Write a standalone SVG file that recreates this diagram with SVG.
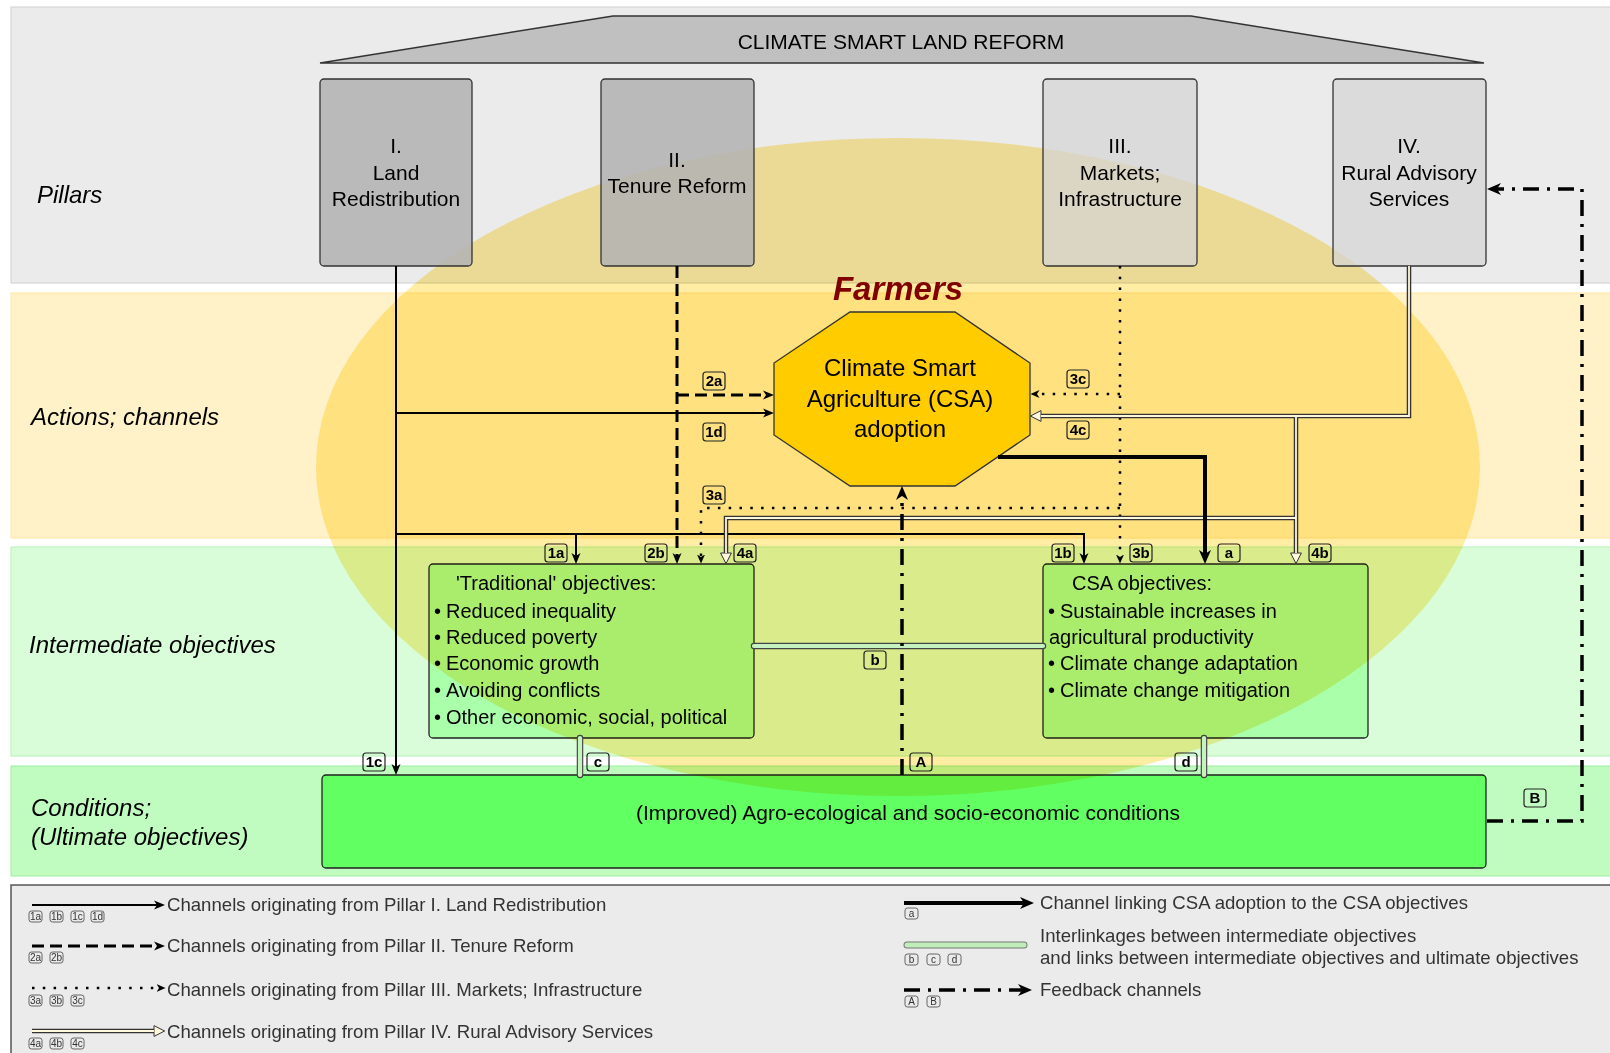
<svg xmlns="http://www.w3.org/2000/svg" width="1610" height="1053" viewBox="0 0 1610 1053">
<defs>
<style>
text{font-family:"Liberation Sans",Arial,Helvetica,sans-serif;fill:#000;}
.bandlbl{font-size:24px;font-style:italic;}
.pil{stroke:#333;stroke-width:1.3;}
.ptxt{font-size:21px;text-anchor:middle;}
.obj{fill:#aaffaa;stroke:#222;stroke-width:1.3;}
.otxt{font-size:20px;}
.lbl rect{fill:none;stroke:#222;stroke-width:1.2;}
.lbl text{font-size:15px;font-weight:bold;text-anchor:middle;}
.sl rect{fill:none;stroke:#555;stroke-width:0.9;}
.sl text{font-size:10px;text-anchor:middle;fill:#333;}
.leg{font-size:18.6px;fill:#333;}
.c1{fill:none;stroke:#000;stroke-width:2;}
.c2{fill:none;stroke:#000;stroke-width:3;stroke-dasharray:12,6;}
.c3{fill:none;stroke:#000;stroke-width:2.5;stroke-dasharray:2.5,8.3;}
.c4o{fill:none;stroke:#333;stroke-width:4.5;}
.c4i{fill:none;stroke:#fff8dc;stroke-width:1.8;}
.ca{fill:none;stroke:#000;stroke-width:4;}
.cf{fill:none;stroke:#000;stroke-width:3.5;stroke-dasharray:16,8,3,8;}
.lko{fill:none;stroke:#444;stroke-width:6.5;stroke-linecap:round;}
.lki{fill:none;stroke:#c6f2c0;stroke-width:4.2;stroke-linecap:round;}
</style>
<marker id="arr" viewBox="0 0 11 10" refX="3" refY="5" markerWidth="11" markerHeight="10" markerUnits="userSpaceOnUse" orient="auto">
<path d="M0,0.5 L11,5 L0,9.5 L3,5 z" fill="#000"/>
</marker>
<marker id="arrS" viewBox="0 0 9 9" refX="2.5" refY="4.5" markerWidth="9" markerHeight="9" markerUnits="userSpaceOnUse" orient="auto">
<path d="M0,0.5 L9,4.5 L0,8.5 L2.5,4.5 z" fill="#000"/>
</marker>
<marker id="arrB" viewBox="0 0 14 12" refX="4" refY="6" markerWidth="14" markerHeight="12" markerUnits="userSpaceOnUse" orient="auto">
<path d="M0,0 L14,6 L0,12 L4,6 z" fill="#000"/>
</marker>
<marker id="hol" viewBox="0 0 12 12" refX="0.6" refY="6" markerWidth="12" markerHeight="12" markerUnits="userSpaceOnUse" orient="auto">
<path d="M0.6,0.6 L11.2,6 L0.6,11.4 z" fill="#fff8dc" stroke="#333" stroke-width="1"/>
</marker>
</defs>

<g id="bands">
<rect x="11" y="7" width="1620" height="276" fill="#ebebeb" stroke="#cfcfcf" stroke-width="1"/>
<rect x="11" y="293" width="1620" height="245" fill="#fff2c8" stroke="#ffe6a0" stroke-width="1"/>
<rect x="11" y="547" width="1620" height="209" fill="#d9fdd9" stroke="#b6f3b6" stroke-width="1"/>
<rect x="11" y="766" width="1620" height="110" fill="#c0fcc0" stroke="#9eee9e" stroke-width="1"/>
</g>

<g id="row-labels">
<text class="bandlbl" x="37" y="203">Pillars</text>
<text class="bandlbl" x="31" y="425">Actions; channels</text>
<text class="bandlbl" x="29" y="653">Intermediate objectives</text>
<text class="bandlbl" x="31" y="816">Conditions;</text>
<text class="bandlbl" x="31" y="845">(Ultimate objectives)</text>
</g>

<g id="roof">
<polygon points="320,63 613,16 1191,16 1484,63" fill="#c0c0c0" stroke="#333" stroke-width="1.5"/>
<text x="901" y="49" font-size="21" text-anchor="middle">CLIMATE SMART LAND REFORM</text>
</g>

<g id="traditional-objectives">
<rect class="obj" x="429" y="564" width="325" height="174" rx="4"/>
<text class="otxt" x="456" y="590">'Traditional' objectives:</text>
<text class="otxt" y="618"><tspan x="434">•</tspan><tspan x="446">Reduced inequality</tspan></text>
<text class="otxt" y="644"><tspan x="434">•</tspan><tspan x="446">Reduced poverty</tspan></text>
<text class="otxt" y="670"><tspan x="434">•</tspan><tspan x="446">Economic growth</tspan></text>
<text class="otxt" y="697"><tspan x="434">•</tspan><tspan x="446">Avoiding conflicts</tspan></text>
<text class="otxt" y="724"><tspan x="434">•</tspan><tspan x="446">Other economic, social, political</tspan></text>
</g>

<g id="csa-objectives">
<rect class="obj" x="1043" y="564" width="325" height="174" rx="4"/>
<text class="otxt" x="1072" y="590">CSA objectives:</text>
<text class="otxt" y="618"><tspan x="1048">•</tspan><tspan x="1060">Sustainable increases in</tspan></text>
<text class="otxt" x="1049" y="644">agricultural productivity</text>
<text class="otxt" y="670"><tspan x="1048">•</tspan><tspan x="1060">Climate change adaptation</tspan></text>
<text class="otxt" y="697"><tspan x="1048">•</tspan><tspan x="1060">Climate change mitigation</tspan></text>
</g>

<g id="conditions">
<rect x="322" y="775" width="1164" height="93" rx="4" fill="#62ff62" stroke="#222" stroke-width="1.3"/>
<text x="908" y="820" font-size="21" text-anchor="middle">(Improved) Agro-ecological and socio-economic conditions</text>
</g>

<ellipse id="farmers-area" cx="898" cy="467" rx="582" ry="329" fill="#ffcc00" fill-opacity="0.36" style="mix-blend-mode:multiply"/>

<g id="pillar-1">
<rect class="pil" x="320" y="79" width="152" height="187" rx="4" fill="#b3b3b3" fill-opacity="0.88"/>
<text class="ptxt" x="396" y="153">I.</text>
<text class="ptxt" x="396" y="180">Land</text>
<text class="ptxt" x="396" y="206">Redistribution</text>
</g>
<g id="pillar-2">
<rect class="pil" x="601" y="79" width="153" height="187" rx="4" fill="#b3b3b3" fill-opacity="0.88"/>
<text class="ptxt" x="677" y="167">II.</text>
<text class="ptxt" x="677" y="193">Tenure Reform</text>
</g>
<g id="pillar-3">
<rect class="pil" x="1043" y="79" width="154" height="187" rx="4" fill="#d4d4d4" fill-opacity="0.72"/>
<text class="ptxt" x="1120" y="153">III.</text>
<text class="ptxt" x="1120" y="180">Markets;</text>
<text class="ptxt" x="1120" y="206">Infrastructure</text>
</g>
<g id="pillar-4">
<rect class="pil" x="1333" y="79" width="153" height="187" rx="4" fill="#d4d4d4" fill-opacity="0.72"/>
<text class="ptxt" x="1409" y="153">IV.</text>
<text class="ptxt" x="1409" y="180">Rural Advisory</text>
<text class="ptxt" x="1409" y="206">Services</text>
</g>

<g id="csa-adoption">
<polygon points="850,312 955,312 1030,363 1030,435 955,486 850,486 774,435 774,363" fill="#ffcc00" stroke="#333" stroke-width="1.3"/>
<text x="900" y="376" font-size="24" text-anchor="middle">Climate Smart</text>
<text x="900" y="407" font-size="24" text-anchor="middle">Agriculture (CSA)</text>
<text x="900" y="437" font-size="24" text-anchor="middle">adoption</text>
</g>

<text id="farmers" x="898" y="300" font-size="33" font-weight="bold" font-style="italic" text-anchor="middle" style="fill:#800000">Farmers</text>

<g id="connectors">
<path class="lko" d="M754,646 H1043 M580,738 V775 M1204,738 V775"/>
<path class="lki" d="M754,646 H1043 M580,738 V775 M1204,738 V775"/>
<path class="c1" d="M396,266 V767" marker-end="url(#arr)"/>
<path class="c1" d="M396,413 H766" marker-end="url(#arr)"/>
<path class="c1" d="M396,534 H1084 V556" marker-end="url(#arr)"/>
<path class="c1" d="M576,534 V556" marker-end="url(#arr)"/>
<path class="c2" d="M677,266 V556" marker-end="url(#arr)"/>
<path class="c2" d="M677,395 H766" marker-end="url(#arr)"/>
<path class="c3" d="M1120,266 V557" marker-end="url(#arrS)"/>
<path class="c3" d="M1120,394 H1037" marker-end="url(#arrS)"/>
<path class="c3" d="M1120,508 H701 V557" marker-end="url(#arrS)"/>
<path class="c4o" d="M1409,266 V416 H1041" marker-end="url(#hol)"/>
<path class="c4o" d="M1296,416 V553" marker-end="url(#hol)"/>
<path class="c4o" d="M1296,518 H726 V553" marker-end="url(#hol)"/>
<path class="c4i" d="M1409,266 V416 H1041 M1296,416 V553 M1296,518 H726 V553"/>
<path class="ca" d="M998,457 H1205 V554" marker-end="url(#arrB)"/>
<path class="cf" d="M902,775 V496" marker-end="url(#arrB)"/>
<path class="cf" d="M1487,821 H1582 V189 H1497" marker-end="url(#arrB)"/>
</g>

<g id="channel-labels">
<g class="lbl"><rect x="703" y="372" width="22" height="18" rx="3"/><text x="714" y="386">2a</text></g>
<g class="lbl"><rect x="703" y="423" width="22" height="18" rx="3"/><text x="714" y="437">1d</text></g>
<g class="lbl"><rect x="703" y="486" width="22" height="18" rx="3"/><text x="714" y="500">3a</text></g>
<g class="lbl"><rect x="1067" y="370" width="22" height="18" rx="3"/><text x="1078" y="384">3c</text></g>
<g class="lbl"><rect x="1067" y="421" width="22" height="18" rx="3"/><text x="1078" y="435">4c</text></g>
<g class="lbl"><rect x="545" y="544" width="22" height="18" rx="3"/><text x="556" y="558">1a</text></g>
<g class="lbl"><rect x="645" y="544" width="22" height="18" rx="3"/><text x="656" y="558">2b</text></g>
<g class="lbl"><rect x="734" y="544" width="22" height="18" rx="3"/><text x="745" y="558">4a</text></g>
<g class="lbl"><rect x="1052" y="544" width="22" height="18" rx="3"/><text x="1063" y="558">1b</text></g>
<g class="lbl"><rect x="1130" y="544" width="22" height="18" rx="3"/><text x="1141" y="558">3b</text></g>
<g class="lbl"><rect x="1218" y="544" width="22" height="18" rx="3"/><text x="1229" y="558">a</text></g>
<g class="lbl"><rect x="1309" y="544" width="22" height="18" rx="3"/><text x="1320" y="558">4b</text></g>
<g class="lbl"><rect x="864" y="651" width="22" height="18" rx="3"/><text x="875" y="665">b</text></g>
<g class="lbl"><rect x="363" y="753" width="22" height="18" rx="3"/><text x="374" y="767">1c</text></g>
<g class="lbl"><rect x="587" y="753" width="22" height="18" rx="3"/><text x="598" y="767">c</text></g>
<g class="lbl"><rect x="910" y="753" width="22" height="18" rx="3"/><text x="921" y="767">A</text></g>
<g class="lbl"><rect x="1175" y="753" width="22" height="18" rx="3"/><text x="1186" y="767">d</text></g>
<g class="lbl"><rect x="1524" y="789" width="22" height="18" rx="3"/><text x="1535" y="803">B</text></g>
</g>

<g id="legend">
<rect x="11" y="885" width="1620" height="200" fill="#ebebeb" stroke="#555" stroke-width="1.5"/>
<path class="c1" d="M32,905 H157" marker-end="url(#arr)"/>
<g class="sl"><rect x="29" y="911" width="13" height="11" rx="2.5"/><text x="35.5" y="920">1a</text></g>
<g class="sl"><rect x="50" y="911" width="13" height="11" rx="2.5"/><text x="56.5" y="920">1b</text></g>
<g class="sl"><rect x="71" y="911" width="13" height="11" rx="2.5"/><text x="77.5" y="920">1c</text></g>
<g class="sl"><rect x="91" y="911" width="13" height="11" rx="2.5"/><text x="97.5" y="920">1d</text></g>
<text class="leg" x="167" y="911">Channels originating from Pillar I. Land Redistribution</text>

<path class="c2" d="M32,946 H157" marker-end="url(#arr)"/>
<g class="sl"><rect x="29" y="952" width="13" height="11" rx="2.5"/><text x="35.5" y="961">2a</text></g>
<g class="sl"><rect x="50" y="952" width="13" height="11" rx="2.5"/><text x="56.5" y="961">2b</text></g>
<text class="leg" x="167" y="952">Channels originating from Pillar II. Tenure Reform</text>

<path class="c3" d="M32,988 H159" marker-end="url(#arrS)"/>
<g class="sl"><rect x="29" y="995" width="13" height="11" rx="2.5"/><text x="35.5" y="1004">3a</text></g>
<g class="sl"><rect x="50" y="995" width="13" height="11" rx="2.5"/><text x="56.5" y="1004">3b</text></g>
<g class="sl"><rect x="71" y="995" width="13" height="11" rx="2.5"/><text x="77.5" y="1004">3c</text></g>
<text class="leg" x="167" y="996">Channels originating from Pillar III. Markets; Infrastructure</text>

<path class="c4o" d="M32,1031 H154" marker-end="url(#hol)"/>
<path class="c4i" d="M32,1031 H154"/>
<g class="sl"><rect x="29" y="1038" width="13" height="11" rx="2.5"/><text x="35.5" y="1047">4a</text></g>
<g class="sl"><rect x="50" y="1038" width="13" height="11" rx="2.5"/><text x="56.5" y="1047">4b</text></g>
<g class="sl"><rect x="71" y="1038" width="13" height="11" rx="2.5"/><text x="77.5" y="1047">4c</text></g>
<text class="leg" x="167" y="1038">Channels originating from Pillar IV. Rural Advisory Services</text>

<path class="ca" d="M904,903 H1024" marker-end="url(#arrB)"/>
<g class="sl"><rect x="905" y="908" width="13" height="11" rx="2.5"/><text x="911.5" y="917">a</text></g>
<text class="leg" x="1040" y="909">Channel linking CSA adoption to the CSA objectives</text>

<path class="lko" d="M907,945 H1024" style="stroke-width:7;stroke:#777"/>
<path class="lki" d="M907,945 H1024" style="stroke-width:5;stroke:#bfeebb"/>
<g class="sl"><rect x="905" y="954" width="13" height="11" rx="2.5"/><text x="911.5" y="963">b</text></g>
<g class="sl"><rect x="927" y="954" width="13" height="11" rx="2.5"/><text x="933.5" y="963">c</text></g>
<g class="sl"><rect x="948" y="954" width="13" height="11" rx="2.5"/><text x="954.5" y="963">d</text></g>
<text class="leg" x="1040" y="942">Interlinkages between intermediate objectives</text>
<text class="leg" x="1040" y="964">and links between intermediate objectives and ultimate objectives</text>

<path class="cf" d="M904,990 H1022" marker-end="url(#arrB)"/>
<g class="sl"><rect x="905" y="996" width="13" height="11" rx="2.5"/><text x="911.5" y="1005">A</text></g>
<g class="sl"><rect x="927" y="996" width="13" height="11" rx="2.5"/><text x="933.5" y="1005">B</text></g>
<text class="leg" x="1040" y="996">Feedback channels</text>
</g>
</svg>
